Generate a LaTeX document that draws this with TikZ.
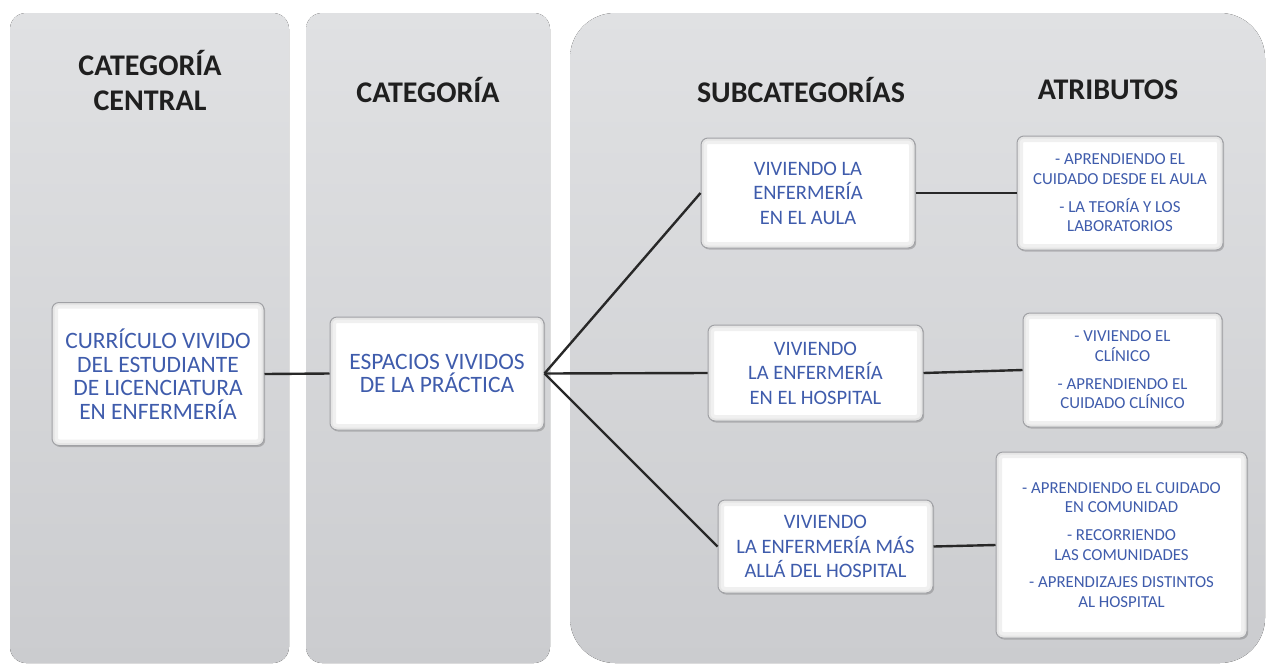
\documentclass[tikz,border=0pt]{standalone}
\usepackage{fontspec}
\setmainfont{Carlito}
\usetikzlibrary{shadows}
\definecolor{txtblue}{RGB}{63,92,172}
\definecolor{paneltop}{RGB}{224,225,227}
\definecolor{panelbot}{RGB}{203,204,207}
\definecolor{boxedge}{RGB}{160,161,165}
\definecolor{linecol}{RGB}{40,40,40}
\tikzset{
  panel/.style={top color=paneltop,bottom color=panelbot,draw=none},
  heading/.style={font=\fontsize{30}{35}\selectfont\bfseries,text=black!88,align=center,inner sep=0pt},
  box/.style={draw=boxedge,line width=1pt,fill=white,rounded corners=7pt,align=center,
    text=txtblue,inner sep=2pt,
    path picture={
      \draw[line width=12pt,black!6,rounded corners=7pt]
        (path picture bounding box.south west) rectangle (path picture bounding box.north east);
      \draw[line width=5pt,black!10,rounded corners=7pt]
        (path picture bounding box.south west) rectangle (path picture bounding box.north east);
    },
    drop shadow={shadow xshift=1.2pt,shadow yshift=-1.5pt,opacity=0.35,fill=black!60}},
  maintext/.style={font=\fontsize{23.5}{23.5}\selectfont},
  subtext/.style={font=\fontsize{20.5}{24.5}\selectfont},
  attrtext/.style={font=\fontsize{16.8}{19.7}\selectfont},
  link/.style={draw=linecol,line width=2.4pt}
}
\begin{document}
\begin{tikzpicture}[x=1pt,y=-1pt]
\useasboundingbox (0,0) rectangle (1267,665);
% panels
\fill[panel,rounded corners=16pt] (10,13) rectangle (289,663);
\fill[panel,rounded corners=16pt] (306,13) rectangle (550,663);
\fill[panel,rounded corners=45pt] (570,13) rectangle (1265,663);
% headings
\node[heading] (h1) at (150,80.5) {CATEGORÍA\\CENTRAL};
\node[heading] (h2) at (428,90) {CATEGORÍA};
\node[heading] (h3) at (801,90) {SUBCATEGORÍAS};
\node[heading] (h4) at (1108,90) {ATRIBUTOS};
% boxes
\node[box,maintext,minimum width=212pt,minimum height=143pt] (A) at (158,374)
  {CURRÍCULO VIVIDO\\DEL ESTUDIANTE\\DE LICENCIATURA\\EN ENFERMERÍA};
\node[box,maintext,minimum width=214pt,minimum height=113pt] (B) at (437,373.5)
  {ESPACIOS VIVIDOS\\DE LA PRÁCTICA};
\node[box,subtext,minimum width=214pt,minimum height=110pt] (C) at (808,193)
  {VIVIENDO LA\\ENFERMERÍA\\EN EL AULA};
\node[box,subtext,minimum width=215pt,minimum height=96pt] (D) at (815.5,373)
  {VIVIENDO\\LA ENFERMERÍA\\EN EL HOSPITAL};
\node[box,subtext,minimum width=215pt,minimum height=93pt] (E) at (825.5,546.5)
  {VIVIENDO\\LA ENFERMERÍA MÁS\\ALLÁ DEL HOSPITAL};
\node[box,attrtext,minimum width=206pt,minimum height=114pt] (F) at (1120,193)
  {- APRENDIENDO EL\\CUIDADO DESDE EL AULA\\[8pt]- LA TEORÍA Y LOS\\LABORATORIOS};
\node[box,attrtext,minimum width=199pt,minimum height=114pt] (G) at (1122.5,370)
  {- VIVIENDO EL\\CLÍNICO\\[8pt]- APRENDIENDO EL\\CUIDADO CLÍNICO};
\node[box,attrtext,minimum width=251pt,minimum height=186pt] (H) at (1121.5,545)
  {- APRENDIENDO EL CUIDADO\\EN COMUNIDAD\\[8pt]- RECORRIENDO\\LAS COMUNIDADES\\[8pt]- APRENDIZAJES DISTINTOS\\AL HOSPITAL};
% connectors
\draw[link] (A.east) -- (B.west);
\draw[link] (B.east) -- (C.west);
\draw[link] (B.east) -- (D.west);
\draw[link] (B.east) -- (E.west);
\draw[link] (C.east) -- (F.west);
\draw[link] (D.east) -- (G.west);
\draw[link] (E.east) -- (H.west);
\end{tikzpicture}
\end{document}
